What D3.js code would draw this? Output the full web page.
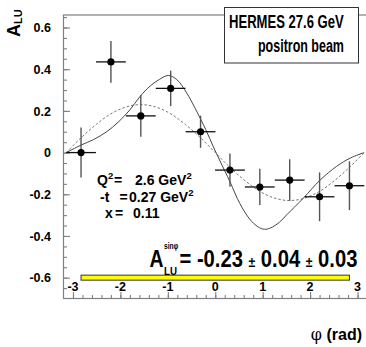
<!DOCTYPE html>
<html><head><meta charset="utf-8">
<script src="https://cdn.jsdelivr.net/npm/d3@7"></script>
<style>
html,body{margin:0;padding:0;background:#fff;}
svg{display:block;font-family:"Liberation Sans",Arial,Helvetica,sans-serif;}
</style></head>
<body>
<svg id="c" width="366" height="347"></svg>
<script>
// ---- data ----
const phiBins   = [-2.83, -2.20, -1.57, -0.94, -0.31, 0.31, 0.94, 1.57, 2.20, 2.83];
const aluValues = [0.000, 0.435, 0.176, 0.308, 0.100, -0.084, -0.165, -0.132, -0.212, -0.159];
const aluErrors = [0.120, 0.100, 0.100, 0.085, 0.077, 0.080, 0.087, 0.100, 0.117, 0.117];
const phiHalfWidth = [0.314, 0.314, 0.314, 0.314, 0.314, 0.314, 0.314, 0.314, 0.314, 0.314];

// solid curve
const solidPhi = [-3.14, -2.83, -2.57, -2.29, -2.05, -1.80, -1.59, -1.37, -1.17, -0.99, -0.81, -0.60, -0.43, -0.20, -0.04, 0.10, 0.31, 0.52, 0.73, 0.90, 1.035, 1.16, 1.35, 1.51, 1.86, 2.21, 2.56, 2.85, 3.14];
const solidA   = [0.000, 0.036, 0.062, 0.100, 0.145, 0.205, 0.268, 0.320, 0.352, 0.370, 0.350, 0.285, 0.215, 0.110, 0.028, -0.040, -0.140, -0.245, -0.320, -0.356, -0.368, -0.362, -0.335, -0.298, -0.218, -0.132, -0.066, -0.026, 0.000];

// dashed curve
const dashPhi = [-3.14, -2.83, -2.51, -2.20, -1.88, -1.57, -1.26, -0.94, -0.63, -0.31, 0.00, 0.31, 0.63, 0.94, 1.26, 1.57, 1.88, 2.20, 2.51, 2.83, 3.14];
const dashA   = [0.000, 0.071, 0.135, 0.186, 0.219, 0.230, 0.219, 0.186, 0.135, 0.071, 0.000, -0.071, -0.135, -0.186, -0.219, -0.230, -0.219, -0.186, -0.135, -0.071, 0.000];

// systematic band
const bandPhi = [-2.83, 2.83];
const bandA   = [-0.588, -0.612];

const xTicks = [-3, -2, -1, 0, 1, 2, 3];
const yTicks = [-0.6, -0.4, -0.2, 0, 0.2, 0.4, 0.6];
const yTickLabels = ["-0.6", "-0.4", "-0.2", "0", "0.2", "0.4", "0.6"];

// ---- drawing ----
const svg = d3.select("#c");
const x = d3.scaleLinear().domain([-3.2, 3.2]).range([63.5, 367]);
const y = d3.scaleLinear().domain([-0.7, 0.66]).range([298.5, 15]);
const axisCol = "#808080";

// squeeze a text horizontally to a target width (keeps its height)
function fit(g, target) {
  const n = g.node().getBBox().width;
  const t = g.attr("data-tr");
  g.attr("transform", `${t} scale(${target / n},1)`);
}

// frame
svg.append("rect").attr("x", x(-3.2)).attr("y", y(0.66)).attr("width", x(3.2) - x(-3.2)).attr("height", y(-0.7) - y(0.66))
  .attr("fill", "none").attr("stroke", axisCol).attr("stroke-width", 1.2);

// y axis ticks
const yMinor = d3.range(-14, 14).map(i => i * 0.05).filter(v => v > -0.7 && v < 0.66);
const gy = svg.append("g").attr("transform", `translate(${x(-3.2)},0)`)
  .call(d3.axisRight(y).tickValues(yMinor).tickSize(3.5).tickFormat(""));
const gy2 = svg.append("g").attr("transform", `translate(${x(-3.2)},0)`)
  .call(d3.axisRight(y).tickValues(yTicks).tickSize(6.5).tickFormat(""));
[gy, gy2].forEach(g => { g.select(".domain").remove(); g.selectAll("line").attr("stroke", axisCol).attr("stroke-width", 1.1); });

svg.append("g").selectAll("text").data(yTicks).join("text")
  .attr("x", 51).attr("y", d => y(d)).attr("dy", "0.37em")
  .attr("text-anchor", "end").attr("font-size", 12.5).attr("font-weight", "bold")
  .text((d, i) => yTickLabels[i]);

// x axis ticks
const xMinor = d3.range(-16, 17).map(i => i * 0.2).filter(v => v > -3.19 && v < 3.19);
const gx = svg.append("g").attr("transform", `translate(0,${y(-0.7)})`)
  .call(d3.axisTop(x).tickValues(xMinor).tickSize(3.5).tickFormat(""));
const gx2 = svg.append("g").attr("transform", `translate(0,${y(-0.7)})`)
  .call(d3.axisTop(x).tickValues(xTicks).tickSize(6.5).tickFormat(""));
[gx, gx2].forEach(g => { g.select(".domain").remove(); g.selectAll("line").attr("stroke", axisCol).attr("stroke-width", 1.1); });

svg.append("g").selectAll("text").data(xTicks).join("text")
  .attr("x", d => x(d)).attr("y", 290.5)
  .attr("text-anchor", "middle").attr("font-size", 12.5).attr("font-weight", "bold")
  .text(d => d);

// curves
const line = d3.line().x(d => x(d[0])).y(d => y(d[1])).curve(d3.curveCatmullRom);
svg.append("path").attr("d", line(dashPhi.map((p, i) => [p, dashA[i]])))
  .attr("fill", "none").attr("stroke", "#777").attr("stroke-width", 1).attr("stroke-dasharray", "2.5,2");
svg.append("path").attr("d", line(solidPhi.map((p, i) => [p, solidA[i]])))
  .attr("fill", "none").attr("stroke", "#444").attr("stroke-width", 1);

// data points with error bars
const pts = phiBins.map((p, i) => ({p, a: aluValues[i], e: aluErrors[i], w: phiHalfWidth[i]}));
const gp = svg.append("g");
gp.selectAll("line.v").data(pts).join("line").attr("class", "v")
  .attr("x1", d => x(d.p)).attr("x2", d => x(d.p)).attr("y1", d => y(d.a + d.e)).attr("y2", d => y(d.a - d.e))
  .attr("stroke", "#555").attr("stroke-width", 1.4);
gp.selectAll("line.h").data(pts).join("line").attr("class", "h")
  .attr("x1", d => x(d.p - d.w)).attr("x2", d => x(d.p + d.w)).attr("y1", d => y(d.a)).attr("y2", d => y(d.a))
  .attr("stroke", "#111").attr("stroke-width", 1.3);
gp.selectAll("circle").data(pts).join("circle")
  .attr("cx", d => x(d.p)).attr("cy", d => y(d.a)).attr("r", 3.6).attr("fill", "#000");

// systematic band
svg.append("rect").attr("x", x(bandPhi[0])).attr("y", y(bandA[0])).attr("width", x(bandPhi[1]) - x(bandPhi[0]))
  .attr("height", y(bandA[1]) - y(bandA[0])).attr("fill", "#ffff00").attr("stroke", "#333").attr("stroke-width", 1);

// title box
svg.append("rect").attr("x", 224.5).attr("y", 7.5).attr("width", 134).attr("height", 55.5)
  .attr("fill", "#fff").attr("stroke", "#333").attr("stroke-width", 1);
const t1 = svg.append("text").attr("data-tr", "translate(229,28)").attr("transform", "translate(229,28)")
  .attr("font-size", 19).attr("font-weight", "bold").text("HERMES 27.6 GeV");
fit(t1, 115);
const t2 = svg.append("text").attr("data-tr", "translate(258,52)").attr("transform", "translate(258,52)")
  .attr("font-size", 19).attr("font-weight", "bold").text("positron beam");
fit(t2, 86);

// y label A_LU
const yl = svg.append("text").attr("transform", "translate(20,37) rotate(-90)").attr("font-weight", "bold");
yl.append("tspan").attr("font-size", 18).text("A");
yl.append("tspan").attr("font-size", 11).attr("dy", 2).text("LU");

// x label
const xl = svg.append("text").attr("x", 362).attr("y", 340).attr("text-anchor", "end").attr("font-size", 16);
xl.append("tspan").attr("font-weight", "normal").attr("font-family", "DejaVu Serif").text("φ");
xl.append("tspan").attr("font-weight", "bold").text(" (rad)");

// kinematics
const kin = svg.append("g").attr("font-size", 14).attr("font-weight", "bold");
function supText(xx, yy, parts) {
  const t = kin.append("text").attr("x", xx).attr("y", yy);
  parts.forEach(pt => {
    const s = t.append("tspan").text(pt[0]);
    if (pt[1] === "sup") s.attr("font-size", 9.5).attr("dy", -6);
  });
  return t;
}
supText(97, 185, [["Q"], ["2", "sup"]]);
kin.append("text").attr("x", 114).attr("y", 185).text("=");
supText(135, 185, [["2.6 GeV"], ["2", "sup"]]);
kin.append("text").attr("x", 100).attr("y", 201.5).text("-t");
kin.append("text").attr("x", 119.5).attr("y", 201.5).text("=");
supText(129, 201.5, [["0.27 GeV"], ["2", "sup"]]);
kin.append("text").attr("x", 105).attr("y", 218).text("x");
kin.append("text").attr("x", 115).attr("y", 218).text("=");
kin.append("text").attr("x", 133).attr("y", 218).text("0.11");

// result annotation
const res = svg.append("g").attr("font-weight", "bold");
const ra = res.append("text").attr("data-tr", "translate(149.5,267)").attr("transform", "translate(149.5,267)")
  .attr("font-size", 23).text("A");
fit(ra, 14);
const rs = res.append("text").attr("data-tr", "translate(164,249)").attr("transform", "translate(164,249)")
  .attr("font-size", 9.5).text("sinφ");
fit(rs, 14.5);
const rl = res.append("text").attr("data-tr", "translate(164,274.5)").attr("transform", "translate(164,274.5)")
  .attr("font-size", 10.5).text("LU");
fit(rl, 13);
const rt = res.append("text").attr("data-tr", "translate(179.5,267)").attr("transform", "translate(179.5,267)")
  .attr("font-size", 23);
rt.append("tspan").text("= -0.23 ");
rt.append("tspan").attr("font-size", 14).text("±");
rt.append("tspan").text(" 0.04 ");
rt.append("tspan").attr("font-size", 14).text("±");
rt.append("tspan").text(" 0.03");
fit(rt, 178);
</script>
</body></html>
